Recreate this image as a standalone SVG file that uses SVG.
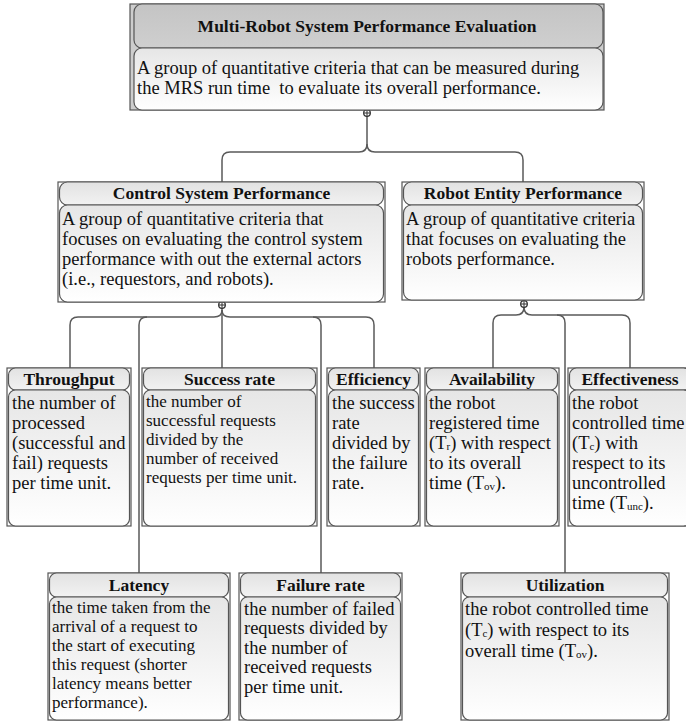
<svg xmlns="http://www.w3.org/2000/svg" width="686" height="723" viewBox="0 0 686 723">
<defs>
<linearGradient id="gHdr" x1="0" y1="0" x2="0" y2="1"><stop offset="0" stop-color="#e2e2e2"/><stop offset="1" stop-color="#f2f2f2"/></linearGradient>
<linearGradient id="gMain" x1="0" y1="0" x2="0" y2="1"><stop offset="0" stop-color="#c4c4c4"/><stop offset="1" stop-color="#cfcfcf"/></linearGradient>
<linearGradient id="gBody" x1="0" y1="0" x2="0" y2="1"><stop offset="0" stop-color="#e6e6e6"/><stop offset="1" stop-color="#ffffff"/></linearGradient>
</defs>
<style>
.frame{fill:none;stroke:#555;stroke-width:1.2}
.hdr{fill:url(#gHdr);stroke:#555;stroke-width:1.2}
.body{fill:url(#gBody);stroke:#555;stroke-width:1.2}
.t{font-family:"Liberation Serif",serif;font-weight:bold;font-size:17.5px;fill:#111;text-anchor:middle}
.b{font-family:"Liberation Serif",serif;font-size:18.5px;fill:#111}
.bs{font-family:"Liberation Serif",serif;font-size:17px;fill:#111}
.s{font-size:11px}
.c{fill:none;stroke:#5a5a5a;stroke-width:1.5}
.dot{fill:#fff;stroke:#333;stroke-width:1.3}
</style>

<g id="connectors">
<path class="c" d="M367,114 V144 Q367,152 359,152 H230 Q222,152 222,160 V182"/>
<path class="c" d="M367,144 Q367,152 375,152 H515 Q523,152 523,160 V182"/>
<path class="c" d="M222,308 V368"/>
<path class="c" d="M222,310 Q222,317 214,317 H78 Q70,317 70,325 V368"/>
<path class="c" d="M147,317 Q139,317 139,325 V573"/>
<path class="c" d="M222,310 Q222,317 230,317 H366 Q374,317 374,325 V368"/>
<path class="c" d="M313,317 Q321,317 321,325 V573"/>
<path class="c" d="M524,307 Q524,315 516,315 H501 Q493,315 493,323 V368"/>
<path class="c" d="M524,307 Q524,315 532,315 H622 Q630,315 630,323 V368"/>
<path class="c" d="M557,315 Q565,315 565,323 V573"/>
<g>
<circle class="dot" cx="367" cy="113" r="3.3"/><path d="M363.7,113 H370.3 M367,109.7 V116.3" stroke="#333" stroke-width="1"/>
<circle class="dot" cx="222" cy="305" r="3.3"/><path d="M218.7,305 H225.3 M222,301.7 V308.3" stroke="#333" stroke-width="1"/>
<circle class="dot" cx="524" cy="304" r="3.3"/><path d="M520.7,304 H527.3 M524,300.7 V307.3" stroke="#333" stroke-width="1"/>
</g>
</g>

<g id="n-mrs">
<rect x="130" y="4" width="474" height="106" fill="#cdcdcd" stroke="#555" stroke-width="1.2"/>
<rect x="134" y="4" width="469" height="44" rx="8" fill="url(#gMain)" stroke="#555" stroke-width="1.2"/>
<rect class="body" x="134" y="48" width="469" height="62" rx="8"/>
<text class="t" x="367" y="32">Multi-Robot System Performance Evaluation</text>
<text class="b" x="137" y="74">A group of quantitative criteria that can be measured during</text>
<text class="b" x="137" y="94" xml:space="preserve">the MRS run time  to evaluate its overall performance.</text>
</g>

<g id="n-control">
<rect class="frame" x="58" y="182" width="327" height="120"/>
<rect class="hdr" x="59.5" y="182" width="324" height="23" rx="8"/>
<rect class="body" x="59.5" y="205" width="324" height="97" rx="8"/>
<text class="t" x="221.5" y="199">Control System Performance</text>
<text class="b" x="62" y="225">A group of quantitative criteria that</text>
<text class="b" x="62" y="245">focuses on evaluating the control system</text>
<text class="b" x="62" y="265">performance with out the external actors</text>
<text class="b" x="62" y="285">(i.e., requestors, and robots).</text>
</g>

<g id="n-robot">
<rect class="frame" x="402" y="182" width="242" height="118"/>
<rect class="hdr" x="403.5" y="182" width="239" height="23" rx="8"/>
<rect class="body" x="403.5" y="205" width="239" height="95" rx="8"/>
<text class="t" x="523" y="199">Robot Entity Performance</text>
<text class="b" x="406" y="225">A group of quantitative criteria</text>
<text class="b" x="406" y="245">that focuses on evaluating the</text>
<text class="b" x="406" y="265">robots performance.</text>
</g>

<g id="n-throughput">
<rect class="frame" x="7" y="368" width="124" height="158"/>
<rect class="hdr" x="8.5" y="368" width="121" height="22" rx="7"/>
<rect class="body" x="8.5" y="390" width="121" height="136" rx="7"/>
<text class="t" x="69" y="385">Throughput</text>
<text class="b" x="12" y="409">the number of</text>
<text class="b" x="12" y="429">processed</text>
<text class="b" x="12" y="449">(successful and</text>
<text class="b" x="12" y="469">fail) requests</text>
<text class="b" x="12" y="489">per time unit.</text>
</g>

<g id="n-success">
<rect class="frame" x="142" y="368" width="175" height="158"/>
<rect class="hdr" x="143.5" y="368" width="172" height="22" rx="7"/>
<rect class="body" x="143.5" y="390" width="172" height="136" rx="7"/>
<text class="t" x="229.5" y="385">Success rate</text>
<text class="bs" x="146" y="407">the number of</text>
<text class="bs" x="146" y="426">successful requests</text>
<text class="bs" x="146" y="445">divided by the</text>
<text class="bs" x="146" y="464">number of received</text>
<text class="bs" x="146" y="483">requests per time unit.</text>
</g>

<g id="n-efficiency">
<rect class="frame" x="327" y="368" width="93" height="158"/>
<rect class="hdr" x="328.5" y="368" width="90" height="22" rx="7"/>
<rect class="body" x="328.5" y="390" width="90" height="136" rx="7"/>
<text class="t" x="373.5" y="385">Efficiency</text>
<text class="b" x="332" y="409">the success</text>
<text class="b" x="332" y="429">rate</text>
<text class="b" x="332" y="449">divided by</text>
<text class="b" x="332" y="469">the failure</text>
<text class="b" x="332" y="489">rate.</text>
</g>

<g id="n-availability">
<rect class="frame" x="425" y="368" width="134" height="158"/>
<rect class="hdr" x="426.5" y="368" width="131" height="22" rx="7"/>
<rect class="body" x="426.5" y="390" width="131" height="136" rx="7"/>
<text class="t" x="492" y="385">Availability</text>
<text class="b" x="429" y="409">the robot</text>
<text class="b" x="429" y="429">registered time</text>
<text class="b" x="429" y="449">(T<tspan class="s" dy="1">r</tspan><tspan dy="-1">) with respect</tspan></text>
<text class="b" x="429" y="469">to its overall</text>
<text class="b" x="429" y="489">time (T<tspan class="s" dy="1">ov</tspan><tspan dy="-1">).</tspan></text>
</g>

<g id="n-effectiveness">
<rect class="frame" x="568" y="368" width="124" height="158"/>
<rect class="hdr" x="569.5" y="368" width="121" height="22" rx="7"/>
<rect class="body" x="569.5" y="390" width="121" height="136" rx="7"/>
<text class="t" x="630" y="385">Effectiveness</text>
<text class="b" x="572" y="409">the robot</text>
<text class="b" x="572" y="429">controlled time</text>
<text class="b" x="572" y="449">(T<tspan class="s" dy="1">c</tspan><tspan dy="-1">) with</tspan></text>
<text class="b" x="572" y="469">respect to its</text>
<text class="b" x="572" y="489">uncontrolled</text>
<text class="b" x="572" y="509">time (T<tspan class="s" dy="1">unc</tspan><tspan dy="-1">).</tspan></text>
</g>

<g id="n-latency">
<rect class="frame" x="48" y="573" width="182" height="147"/>
<rect class="hdr" x="49.5" y="573" width="179" height="24" rx="7"/>
<rect class="body" x="49.5" y="597" width="179" height="123" rx="7"/>
<text class="t" x="139" y="591">Latency</text>
<text class="bs" x="52" y="613">the time taken from the</text>
<text class="bs" x="52" y="632">arrival of a request to</text>
<text class="bs" x="52" y="651">the start of executing</text>
<text class="bs" x="52" y="670">this request (shorter</text>
<text class="bs" x="52" y="689">latency means better</text>
<text class="bs" x="52" y="708">performance).</text>
</g>

<g id="n-failure">
<rect class="frame" x="239" y="573" width="163" height="147"/>
<rect class="hdr" x="240.5" y="573" width="160" height="24" rx="7"/>
<rect class="body" x="240.5" y="597" width="160" height="123" rx="7"/>
<text class="t" x="320.5" y="591">Failure rate</text>
<text class="b" x="244" y="615">the number of failed</text>
<text class="b" x="244" y="634">requests divided by</text>
<text class="b" x="244" y="654">the number of</text>
<text class="b" x="244" y="673">received requests</text>
<text class="b" x="244" y="693">per time unit.</text>
</g>

<g id="n-utilization">
<rect class="frame" x="461" y="573" width="208" height="147"/>
<rect class="hdr" x="462.5" y="573" width="205" height="24" rx="7"/>
<rect class="body" x="462.5" y="597" width="205" height="123" rx="7"/>
<text class="t" x="565" y="591">Utilization</text>
<text class="b" x="465" y="615">the robot controlled time</text>
<text class="b" x="465" y="636">(T<tspan class="s" dy="1">c</tspan><tspan dy="-1">) with respect to its</tspan></text>
<text class="b" x="465" y="657">overall time (T<tspan class="s" dy="1">ov</tspan><tspan dy="-1">).</tspan></text>
</g>
</svg>
